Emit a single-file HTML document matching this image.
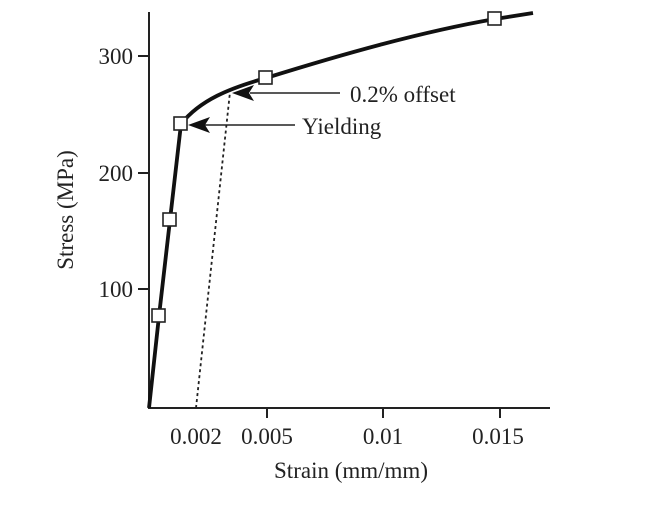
<!DOCTYPE html>
<html><head><meta charset="utf-8"><style>body{margin:0;background:#fff}svg{display:block}</style></head>
<body>
<svg width="672" height="514" viewBox="0 0 672 514" xmlns="http://www.w3.org/2000/svg" font-family="Liberation Serif, serif" font-size="23" fill="#222">
<g stroke="#222" stroke-width="2" fill="none">
<path d="M149,12 V408 H550"/>
<path d="M138,56 H149 M138,173 H149 M138,289 H149"/>
<path d="M267,408 V418 M383,408 V418 M500,408 V418"/>
</g>
<path d="M196,408 L230,92" stroke="#222" stroke-width="1.8" stroke-dasharray="3,3" fill="none"/>
<path d="M149,408 L159,316 L170,220 L181,124 C200,100 230,88 266,78 C340,55 420,32 495,19 L533,13" stroke="#111" stroke-width="3.8" fill="none" stroke-linejoin="round"/>
<g fill="#fff" stroke="#222" stroke-width="1.6">
<rect x="152" y="309" width="13" height="13"/>
<rect x="163" y="213" width="13" height="13"/>
<rect x="174" y="117" width="13" height="13"/>
<rect x="259" y="71" width="13" height="13"/>
<rect x="488" y="12" width="13" height="13"/>
</g>
<g stroke="#222" stroke-width="1.6">
<path d="M250,93 H340"/><path d="M205,125 H295"/>
</g>
<path d="M232,93 L254,85 L249,93 L254,101 Z" fill="#111"/>
<path d="M188,125 L210,117 L205,125 L210,133 Z" fill="#111"/>
<text x="350" y="102">0.2% offset</text>
<text x="302" y="134">Yielding</text>
<g text-anchor="end"><text x="133" y="64">300</text><text x="133" y="181">200</text><text x="133" y="297">100</text></g>
<g text-anchor="middle">
<text x="196" y="444">0.002</text><text x="267" y="444">0.005</text><text x="383" y="444">0.01</text><text x="498" y="444">0.015</text>
<text x="351" y="478">Strain (mm/mm)</text>
<text transform="translate(73,210) rotate(-90)">Stress (MPa)</text>
</g>
</svg>
</body></html>
